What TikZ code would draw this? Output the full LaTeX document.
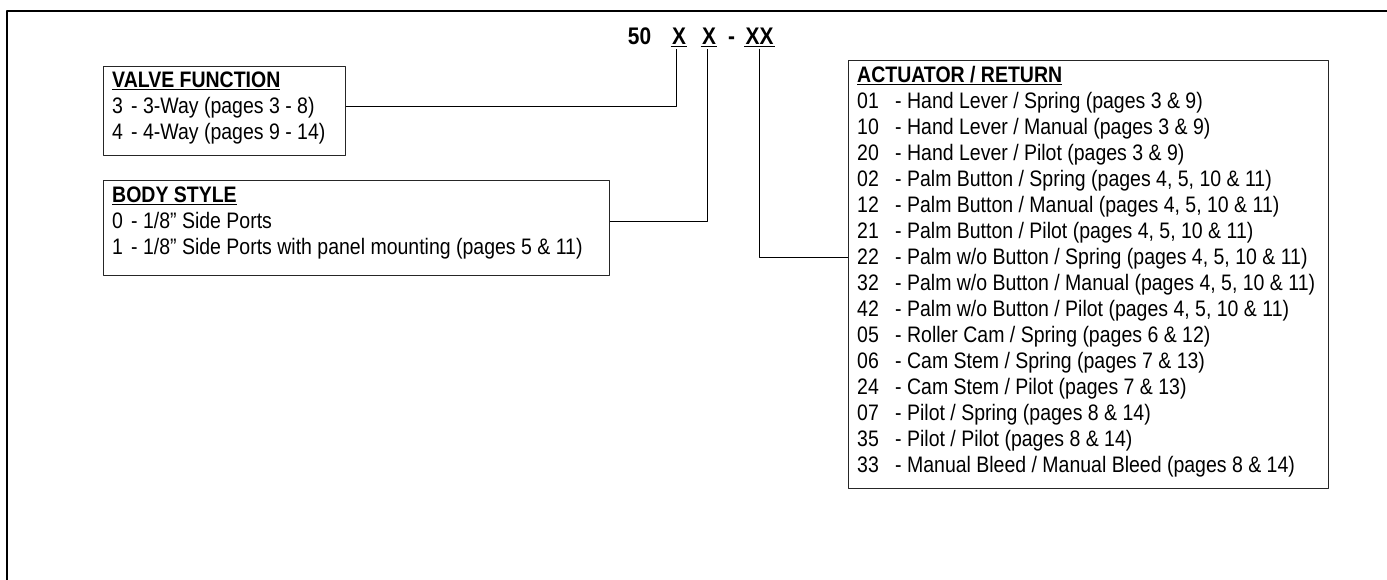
\documentclass[tikz,border=0pt]{standalone}
\usepackage{fontspec}
\setmainfont{Liberation Sans}
\newfontfamily\narrowfont{Liberation Sans}[FakeStretch=0.87]
\begin{document}
\begin{tikzpicture}[x=1pt, y=-1pt, line join=round,
    box/.style={draw=black!85, line width=0.9pt, anchor=north west, inner sep=0pt},
    list/.style={anchor=north west, align=left, inner sep=0pt,
        font=\narrowfont\fontsize{22.4}{26}\selectfont},
    code/.style={anchor=base, inner sep=1.5pt,
        font=\narrowfont\fontsize{24}{26}\selectfont\bfseries},
    conn/.style={line width=0.8pt}]
    \def\vnum#1{\makebox[19pt][l]{#1}}
    \def\anum#1{\makebox[38pt][l]{#1}}
    \def\ul#1{\underline{\kern1.5pt #1\kern1.5pt}}
    \def\head#1{\rule{0pt}{17pt}\underline{\textbf{#1}}}
    \useasboundingbox (0,0) rectangle (1387,580);
    \draw[line width=2pt] (7,586) -- (7,11) -- (1393,11);
    % part number
    \node[code] (n50) at (639.5,45) {50};
    \node[code] (x1) at (679,45) {\ul{X}};
    \node[code] (x2) at (709,45) {\ul{X}};
    \node[code] (dash) at (731.5,45) {-};
    \node[code] (xx) at (759.5,45) {\ul{XX}};
    % valve function
    \node[box, minimum width=242pt, minimum height=89pt] (vf) at (103,66) {};
    \node[list] (vft) at ([shift={(9pt,-4pt)}]vf.north west)
        {\head{VALVE FUNCTION}\\
        \vnum{3}- 3-Way (pages 3 - 8)\\
        \vnum{4}- 4-Way (pages 9 - 14)};
    % body style
    \node[box, minimum width=506pt, minimum height=95pt] (bs) at (103,180) {};
    \node[list] (bst) at ([shift={(9pt,-5pt)}]bs.north west)
        {\head{BODY STYLE}\\
        \vnum{0}- 1/8” Side Ports\\
        \vnum{1}- 1/8” Side Ports with panel mounting (pages 5 \& 11)};
    % actuator / return
    \node[box, minimum width=480pt, minimum height=428pt] (ar) at (848,60) {};
    \node[list] (art) at ([shift={(9pt,-5pt)}]ar.north west)
        {\head{ACTUATOR / RETURN}\\
        \anum{01}- Hand Lever / Spring (pages 3 \& 9)\\
        \anum{10}- Hand Lever / Manual (pages 3 \& 9)\\
        \anum{20}- Hand Lever / Pilot (pages 3 \& 9)\\
        \anum{02}- Palm Button / Spring (pages 4, 5, 10 \& 11)\\
        \anum{12}- Palm Button / Manual (pages 4, 5, 10 \& 11)\\
        \anum{21}- Palm Button / Pilot (pages 4, 5, 10 \& 11)\\
        \anum{22}- Palm w/o Button / Spring (pages 4, 5, 10 \& 11)\\
        \anum{32}- Palm w/o Button / Manual (pages 4, 5, 10 \& 11)\\
        \anum{42}- Palm w/o Button / Pilot (pages 4, 5, 10 \& 11)\\
        \anum{05}- Roller Cam / Spring (pages 6 \& 12)\\
        \anum{06}- Cam Stem / Spring (pages 7 \& 13)\\
        \anum{24}- Cam Stem / Pilot (pages 7 \& 13)\\
        \anum{07}- Pilot / Spring (pages 8 \& 14)\\
        \anum{35}- Pilot / Pilot (pages 8 \& 14)\\
        \anum{33}- Manual Bleed / Manual Bleed (pages 8 \& 14)};
    % leaders
    \draw[conn] ([yshift=-40pt]vf.north east) -| ([xshift=-3pt]x1.south);
    \draw[conn] ([yshift=-41pt]bs.north east) -| ([xshift=-2pt]x2.south);
    \draw[conn] (xx.south) |- ([yshift=-197pt]ar.north west);
\end{tikzpicture}
\end{document}
